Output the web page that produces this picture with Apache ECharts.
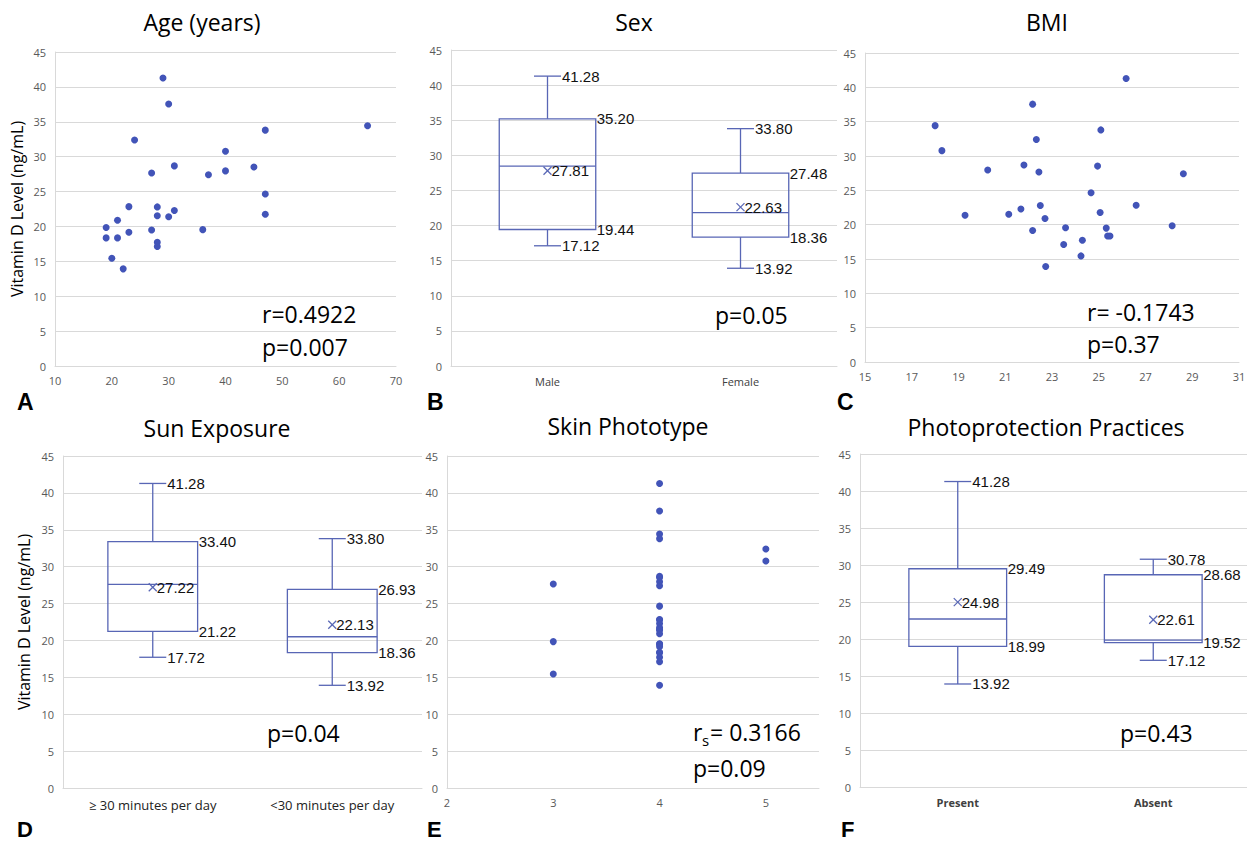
<!DOCTYPE html>
<html>
<head>
<meta charset="utf-8">
<script src="https://cdn.jsdelivr.net/npm/echarts@6/dist/echarts.min.js"></script>
<style>
html, body { margin: 0; padding: 0; background: #fff; }
#main { width: 1247px; height: 843px; }
</style>
</head>
<body>
<div id="main"></div>
<script>
// ---- data (one entry per patient) ----
var vitD = [41.28, 37.55, 34.42, 33.80, 32.40, 30.78, 28.68, 28.53, 27.96, 27.66, 27.42, 24.65, 22.84, 22.80, 22.28,
            21.76, 21.52, 21.38, 20.90, 19.84, 19.54, 19.50, 19.16, 18.36, 18.36, 17.72, 17.12, 15.45, 13.92];
var age = [29, 30, 65, 47, 24, 40, 31, 45, 40, 27, 37, 47, 23, 28, 31,
           47, 28, 30, 21, 19, 36, 27, 23, 19, 21, 28, 28, 20, 22];
var bmi = [26.17, 22.17, 18.0, 25.09, 22.33, 18.29, 21.8, 24.95, 20.25, 22.44, 28.62, 24.67, 26.6, 22.5, 21.67,
           25.06, 21.15, 19.28, 22.7, 28.14, 23.58, 25.32, 22.17, 25.38, 25.48, 24.3, 23.5, 24.24, 22.73];
var phototype = [4, 4, 4, 4, 5, 5, 4, 4, 4, 3, 4, 4, 4, 4, 4,
                 4, 4, 4, 4, 3, 4, 4, 4, 4, 4, 4, 4, 3, 4];

// box plots: [min, q1, median, q3, max, mean]
var sexCats = ['Male', 'Female'];
var sexBox = [[17.12, 19.44, 28.45, 35.20, 41.28, 27.81], [13.92, 18.36, 21.85, 27.48, 33.80, 22.63]];
var sunCats = ['\u2265 30 minutes per day', '<30 minutes per day'];
var sunBox = [[17.72, 21.22, 27.6, 33.40, 41.28, 27.22], [13.92, 18.36, 20.5, 26.93, 33.80, 22.13]];
var photoCats = ['Present', 'Absent'];
var photoBox = [[13.92, 18.99, 22.7, 29.49, 41.28, 24.98], [17.12, 19.52, 19.86, 28.68, 30.78, 22.61]];

var ageTicks = [10, 20, 30, 40, 50, 60, 70];
var bmiTicks = [15, 17, 19, 21, 23, 25, 27, 29, 31];
var skinTicks = [2, 3, 4, 5];

var dotColor = '#4254b8';
var boxColor = '#5866b5';
var gridColor = '#d9d9d9';
var font = '"Open Sans", "Noto Sans", sans-serif';

function pairs(xs) {
  return xs.map(function (x, i) { return [x, vitD[i]]; });
}
function boxData(arr) {
  return arr.map(function (b, i) { return [i].concat(b); });
}

function boxItem(params, api) {
  var i = api.value(0);
  var cx = api.coord([i, 0])[0];
  var half = api.size([1, 0])[0] * 0.25;
  var capHalf = 13.5;
  function py(v) { return api.coord([i, v])[1]; }
  var vMin = api.value(1), vQ1 = api.value(2), vMed = api.value(3),
      vQ3 = api.value(4), vMax = api.value(5), vMean = api.value(6);
  var yMin = py(vMin), yQ1 = py(vQ1), yMed = py(vMed), yQ3 = py(vQ3), yMax = py(vMax), yMean = py(vMean);
  var ls = { stroke: boxColor, lineWidth: 1.3 };
  function seg(x1, y1, x2, y2) {
    return { type: 'line', shape: { x1: x1, y1: y1, x2: x2, y2: y2 }, style: ls };
  }
  function lab(v, x, y) {
    return { type: 'text', style: { text: v.toFixed(2), x: x, y: y, fill: '#111',
      font: '15px "Liberation Sans", Arial, sans-serif', align: 'left', textAlign: 'left',
      verticalAlign: 'middle', textVerticalAlign: 'middle' } };
  }
  return { type: 'group', children: [
    { type: 'rect', shape: { x: cx - half, y: yQ3, width: half * 2, height: yQ1 - yQ3 },
      style: { fill: 'none', stroke: boxColor, lineWidth: 1.3 } },
    seg(cx - half, yMed, cx + half, yMed),
    seg(cx, yQ3, cx, yMax), seg(cx - capHalf, yMax, cx + capHalf, yMax),
    seg(cx, yQ1, cx, yMin), seg(cx - capHalf, yMin, cx + capHalf, yMin),
    seg(cx - 4, yMean - 4, cx + 4, yMean + 4), seg(cx - 4, yMean + 4, cx + 4, yMean - 4),
    lab(vMax, cx + capHalf + 1, yMax),
    lab(vQ3, cx + half + 1, yQ3),
    lab(vMean, cx + 4, yMean),
    lab(vQ1, cx + half + 1, yQ1),
    lab(vMin, cx + capHalf + 1, yMin)
  ]};
}

var grids = [
  { left: 55, top: 52, width: 341, height: 314 },
  { left: 451, top: 50, width: 386, height: 316 },
  { left: 865, top: 53, width: 374, height: 309 },
  { left: 63, top: 456, width: 359, height: 332 },
  { left: 447, top: 456, width: 372, height: 332 },
  { left: 860, top: 454, width: 391, height: 333 }
];
grids.forEach(function (g) { g.outerBoundsMode = 'none'; g.containLabel = false; });

var axisLabelStyle = { color: '#595959', fontSize: 11, fontFamily: font, margin: 9 };

function yAx(gi, name, gap) {
  var a = {
    type: 'value', gridIndex: gi, min: 0, max: 45, interval: 5,
    axisLine: { show: true, lineStyle: { color: gridColor, width: 1 } },
    axisTick: { show: false },
    splitLine: { show: true, lineStyle: { color: gridColor, width: 1 } },
    axisLabel: axisLabelStyle
  };
  if (name) {
    a.name = name;
    a.nameLocation = 'middle';
    a.nameGap = gap;
    a.nameTextStyle = { color: '#000', fontSize: 16, fontFamily: font };
  }
  return a;
}
function valX(gi, min, max, ticks) {
  return {
    type: 'value', gridIndex: gi, min: min, max: max,
    axisLine: { show: true, onZero: false, lineStyle: { color: gridColor, width: 1 } },
    axisTick: { show: false },
    splitLine: { show: false },
    axisLabel: Object.assign({ customValues: ticks }, axisLabelStyle)
  };
}
function catX(gi, cats, size, weight, color) {
  return {
    type: 'category', gridIndex: gi, data: cats, boundaryGap: true,
    axisLine: { show: true, lineStyle: { color: gridColor, width: 1 } },
    axisTick: { show: false },
    splitLine: { show: false },
    axisLabel: { color: color || '#404040', fontSize: size, fontWeight: weight || 'normal', fontFamily: font, margin: 10, interval: 0 }
  };
}

function scatter(gi, data) {
  return { type: 'scatter', xAxisIndex: gi, yAxisIndex: gi, data: data,
    symbol: 'circle', symbolSize: 7, itemStyle: { color: dotColor, opacity: 1 }, silent: true };
}
function boxes(gi, arr) {
  return { type: 'custom', xAxisIndex: gi, yAxisIndex: gi, data: boxData(arr),
    renderItem: boxItem, clip: false, silent: true };
}

function txt(t, x, y, size, opts) {
  opts = opts || {};
  return { type: 'text', silent: true, style: {
    text: t, x: x, y: y, fill: '#000',
    font: (opts.weight || 'normal') + ' ' + size + 'px ' + (opts.family || font),
    textAlign: opts.align || 'left', align: opts.align || 'left',
    textVerticalAlign: 'middle', verticalAlign: 'middle' } };
}

var letterFont = { weight: 'bold', family: '"Liberation Sans", Arial, sans-serif' };
var skinPts = phototype.map(function (p, i) { return [p, vitD[i]]; });

var option = {
  animation: false,
  backgroundColor: '#fff',
  grid: grids,
  xAxis: [
    Object.assign(valX(0, 10, 70, ageTicks), { interval: 10 }),
    catX(1, sexCats, 11),
    valX(2, 15, 31, bmiTicks),
    catX(3, sunCats, 13, 'normal', '#222'),
    valX(4, 2, 5.5, skinTicks),
    catX(5, photoCats, 11, 'bold', '#404040')
  ],
  yAxis: [
    yAx(0, 'Vitamin D Level (ng/mL)', 30),
    yAx(1), yAx(2),
    yAx(3, 'Vitamin D Level (ng/mL)', 31),
    yAx(4), yAx(5)
  ],
  series: [
    scatter(0, pairs(age)),
    boxes(1, sexBox),
    scatter(2, pairs(bmi)),
    boxes(3, sunBox),
    scatter(4, skinPts),
    boxes(5, photoBox)
  ],
  graphic: [
    // panel titles
    txt('Age (years)', 202, 22, 23, { align: 'center' }),
    txt('Sex', 634, 22, 23, { align: 'center' }),
    txt('BMI', 1047, 22, 23, { align: 'center' }),
    txt('Sun Exposure', 217, 428, 23, { align: 'center' }),
    txt('Skin Phototype', 628, 426, 23, { align: 'center' }),
    txt('Photoprotection Practices', 1046, 427, 23, { align: 'center' }),
    // statistics
    txt('r=0.4922', 262, 314, 23),
    txt('p=0.007', 262, 347, 23),
    txt('p=0.05', 715, 315, 23),
    txt('r= -0.1743', 1087, 312, 23),
    txt('p=0.37', 1087, 344, 23),
    txt('p=0.04', 267, 733, 23),
    txt('r', 693, 732, 23),
    txt('s', 702, 740, 15),
    txt('= 0.3166', 710, 732, 23),
    txt('p=0.09', 693, 768, 23),
    txt('p=0.43', 1120, 733, 23),
    // panel letters
    txt('A', 17, 402, 23, letterFont),
    txt('B', 427, 402, 23, letterFont),
    txt('C', 837, 402, 23, letterFont),
    txt('D', 17, 829, 22, letterFont),
    txt('E', 427, 829, 22, letterFont),
    txt('F', 841, 829, 22, letterFont)
  ]
};

var chart = echarts.init(document.getElementById('main'), null, { renderer: 'svg' });
chart.setOption(option);
</script>
</body>
</html>
